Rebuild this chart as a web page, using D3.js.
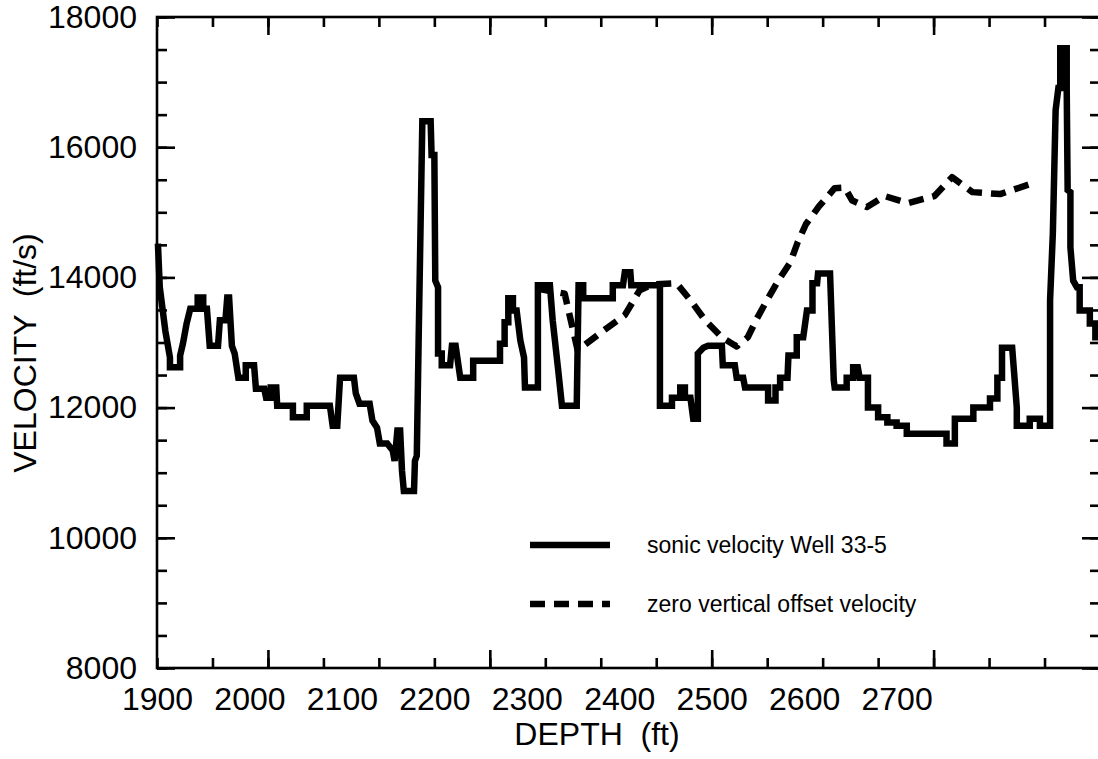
<!DOCTYPE html>
<html>
<head>
<meta charset="utf-8">
<script src="https://cdn.jsdelivr.net/npm/d3@7"></script>
<style>
  html, body { margin: 0; padding: 0; background: #fff; }
  svg { display: block; font-family: "Liberation Sans", Arial, Helvetica, sans-serif; }
  text { white-space: pre; }
</style>
</head>
<body>
<svg id="chart" width="1098" height="759"></svg>
<script>
// Depth axis labels (ft) and velocity axis labels (ft/s)
const depthLabels = [1900, 2000, 2100, 2200, 2300, 2400, 2500, 2600, 2700];
const velocityLabels = [8000, 10000, 12000, 14000, 16000, 18000];

// Sonic log, Well 33-5: depth (ft) and velocity (ft/s) vertices of the blocky trace
const sonicDepth = [
  1901, 1903, 1909, 1914, 1914, 1925, 1925, 1928, 1932, 1936,
  1944, 1944, 1950, 1950, 1954, 1957, 1966, 1968, 1974, 1976,
  1978, 1981, 1984, 1988, 1996, 1996, 2005, 2007, 2016, 2018,
  2023, 2023, 2029, 2030, 2047, 2047, 2062, 2062, 2087, 2090,
  2095, 2098, 2113, 2115, 2119, 2130, 2133, 2138, 2141, 2149,
  2155, 2157, 2160, 2163, 2165, 2167, 2178, 2179, 2181, 2183,
  2187, 2196, 2197, 2200, 2201, 2204, 2204, 2208, 2208, 2217,
  2219, 2223, 2228, 2242, 2242, 2271, 2271, 2276, 2276, 2280,
  2280, 2285, 2285, 2289, 2293, 2297, 2298, 2312, 2312, 2325,
  2328, 2334, 2338, 2354, 2356, 2361, 2361, 2393, 2393, 2404,
  2406, 2412, 2413, 2444, 2444, 2457, 2457, 2466, 2466, 2471,
  2471, 2477, 2480, 2485, 2485, 2491, 2496, 2511, 2512, 2525,
  2527, 2534, 2536, 2561, 2561, 2569, 2569, 2574, 2574, 2582,
  2583, 2592, 2592, 2599, 2603, 2609, 2609, 2614, 2615, 2628,
  2632, 2633, 2646, 2646, 2653, 2653, 2658, 2660, 2669, 2669,
  2680, 2680, 2690, 2690, 2700, 2700, 2711, 2711, 2754, 2754,
  2763, 2763, 2783, 2783, 2801, 2801, 2809, 2809, 2814, 2814,
  2825, 2830, 2830, 2844, 2844, 2855, 2855, 2866, 2866, 2869,
  2872, 2875, 2877, 2877, 2884, 2884, 2885, 2888, 2888, 2891,
  2895, 2898, 2898, 2909, 2909, 2915, 2915, 2918
];
const sonicVelocity = [
  14520, 13850, 13180, 12770, 12620, 12620, 12800, 12980, 13290, 13520,
  13520, 13690, 13690, 13520, 13520, 12950, 12950, 13340, 13340, 13690,
  13690, 12950, 12830, 12460, 12460, 12650, 12650, 12290, 12290, 12150,
  12150, 12310, 12310, 12030, 12030, 11850, 11850, 12030, 12030, 11720,
  11720, 12460, 12460, 12220, 12060, 12060, 11800, 11690, 11450, 11450,
  11340, 11180, 11650, 11650, 11030, 10720, 10720, 11180, 11260, 13030,
  16400, 16400, 15880, 15880, 13950, 13850, 12830, 12830, 12650, 12650,
  12950, 12950, 12460, 12460, 12720, 12720, 12980, 12980, 13310, 13310,
  13680, 13680, 13490, 13490, 13030, 12770, 12310, 12310, 13880, 13880,
  13340, 12570, 12030, 12030, 13880, 13880, 13680, 13680, 13880, 13880,
  14080, 14080, 13880, 13880, 12030, 12030, 12150, 12150, 12310, 12310,
  12150, 12150, 11830, 11830, 12830, 12920, 12950, 12950, 12650, 12650,
  12460, 12460, 12310, 12310, 12110, 12110, 12310, 12310, 12460, 12460,
  12800, 12800, 13080, 13080, 13490, 13490, 13910, 13910, 14060, 14060,
  12420, 12310, 12310, 12460, 12460, 12620, 12620, 12460, 12460, 12000,
  12000, 11850, 11850, 11770, 11770, 11720, 11720, 11600, 11600, 11450,
  11450, 11830, 11830, 12000, 12000, 12140, 12140, 12460, 12460, 12920,
  12920, 12000, 11720, 11720, 11830, 11830, 11720, 11720, 13650, 14680,
  16570, 16910, 16910, 17520, 17520, 16880, 15340, 15310, 14460, 13950,
  13850, 13850, 13490, 13490, 13290, 13290, 13080, 13080
];

// Zero vertical offset VSP velocity: depth (ft) and velocity (ft/s)
const zvoDepth = [
  2311, 2341, 2355, 2379, 2406, 2422, 2435, 2462, 2477, 2493,
  2511, 2527, 2539, 2549, 2561, 2572, 2585, 2593, 2602, 2616,
  2633, 2644, 2652, 2668, 2687, 2712, 2741, 2760, 2782, 2812, 2848
];
const zvoVelocity = [
  13830, 13750, 12880, 13140, 13420, 13800, 13890, 13910, 13650, 13340,
  13080, 12940, 13080, 13370, 13680, 13950, 14230, 14540, 14820, 15090,
  15370, 15380, 15180, 15080, 15250, 15140, 15250, 15540, 15310, 15280, 15450
];

const legendLabels = ["sonic velocity Well 33-5", "zero vertical offset velocity"];

// ---- layout ----
const plot = { left: 157, right: 1100, top: 17, bottom: 668 };
const svg = d3.select("#chart");

const x = d3.scaleLinear().domain([1900, 2920]).range([plot.left, plot.right]);
const y = d3.scaleLinear().domain([8000, 18000]).range([plot.bottom, plot.top]);

// frame tick positions (inward ticks on all four sides)
const xMinor = d3.range(1900, 2921, 60);
const xMajor = d3.range(2020, 2921, 240);
const yMinor = d3.range(8000, 18001, 500);
const yMajor = d3.range(8000, 18001, 2000);

const AXIS_W = 2.6;

function styleAxis(g) {
  g.attr("font-family", null).attr("font-size", null);
  g.selectAll("path.domain").remove();
  g.selectAll(".tick line").attr("stroke", "#000").attr("stroke-width", AXIS_W);
}

// bottom
svg.append("g").attr("transform", `translate(0,${plot.bottom})`)
  .call(d3.axisBottom(x).tickValues(xMinor).tickSize(-10).tickFormat("")).call(styleAxis);
svg.append("g").attr("transform", `translate(0,${plot.bottom})`)
  .call(d3.axisBottom(x).tickValues(xMajor).tickSize(-18).tickFormat("")).call(styleAxis);
// top
svg.append("g").attr("transform", `translate(0,${plot.top})`)
  .call(d3.axisTop(x).tickValues(xMinor).tickSize(-10).tickFormat("")).call(styleAxis);
svg.append("g").attr("transform", `translate(0,${plot.top})`)
  .call(d3.axisTop(x).tickValues(xMajor).tickSize(-18).tickFormat("")).call(styleAxis);
// left
svg.append("g").attr("transform", `translate(${plot.left},0)`)
  .call(d3.axisLeft(y).tickValues(yMinor).tickSize(-10).tickFormat("")).call(styleAxis);
svg.append("g").attr("transform", `translate(${plot.left},0)`)
  .call(d3.axisLeft(y).tickValues(yMajor).tickSize(-18).tickFormat("")).call(styleAxis);
// right
svg.append("g").attr("transform", `translate(${plot.right},0)`)
  .call(d3.axisRight(y).tickValues(yMinor).tickSize(-10).tickFormat("")).call(styleAxis);
svg.append("g").attr("transform", `translate(${plot.right},0)`)
  .call(d3.axisRight(y).tickValues(yMajor).tickSize(-18).tickFormat("")).call(styleAxis);

// tick labels
const xLab = svg.append("g").attr("transform", `translate(0,${plot.bottom})`)
  .call(d3.axisBottom(x).tickValues(depthLabels).tickSize(0).tickPadding(19).tickFormat(d3.format("d")));
xLab.attr("font-family", null).attr("font-size", null);
xLab.select("path.domain").remove();
xLab.selectAll("text").attr("font-size", 32).attr("fill", "#000");

const yLab = svg.append("g").attr("transform", `translate(${plot.left},0)`)
  .call(d3.axisLeft(y).tickValues(velocityLabels).tickSize(0).tickPadding(20).tickFormat(d3.format("d")));
yLab.attr("font-family", null).attr("font-size", null);
yLab.select("path.domain").remove();
yLab.selectAll("text").attr("font-size", 32).attr("fill", "#000");

// frame
svg.append("rect")
  .attr("x", plot.left).attr("y", plot.top)
  .attr("width", plot.right - plot.left).attr("height", plot.bottom - plot.top)
  .attr("fill", "none").attr("stroke", "#000").attr("stroke-width", AXIS_W);

// ---- series ----
const sonic = sonicDepth.map((d, i) => [d, sonicVelocity[i]]);
const zvo = zvoDepth.map((d, i) => [d, zvoVelocity[i]]);

const line = d3.line().x(d => x(d[0])).y(d => y(d[1]));

svg.append("path")
  .datum(zvo)
  .attr("d", line)
  .attr("fill", "none")
  .attr("stroke", "#000")
  .attr("stroke-width", 6.5)
  .attr("stroke-dasharray", "15,9")
  .attr("stroke-linejoin", "round");

svg.append("path")
  .datum(sonic)
  .attr("d", line)
  .attr("fill", "none")
  .attr("stroke", "#000")
  .attr("stroke-width", 6.5)
  .attr("stroke-linejoin", "miter")
  .attr("stroke-miterlimit", 3);

// ---- axis titles ----
svg.append("text")
  .attr("x", 597).attr("y", 745)
  .attr("text-anchor", "middle")
  .attr("font-size", 32)
  .text("DEPTH  (ft)");

svg.append("text")
  .attr("transform", "translate(36,353) rotate(-90)")
  .attr("text-anchor", "middle")
  .attr("font-size", 32)
  .text("VELOCITY  (ft/s)");

// ---- legend ----
const legend = svg.append("g");
const legendRows = [
  { label: legendLabels[0], y: 545, dash: null },
  { label: legendLabels[1], y: 604, dash: "15,9" }
];
legendRows.forEach(r => {
  legend.append("line")
    .attr("x1", 530).attr("x2", 610)
    .attr("y1", r.y).attr("y2", r.y)
    .attr("stroke", "#000").attr("stroke-width", 6.5)
    .attr("stroke-dasharray", r.dash);
  legend.append("text")
    .attr("x", 647).attr("y", r.y + 8)
    .attr("font-size", 23)
    .text(r.label);
});
</script>
</body>
</html>
